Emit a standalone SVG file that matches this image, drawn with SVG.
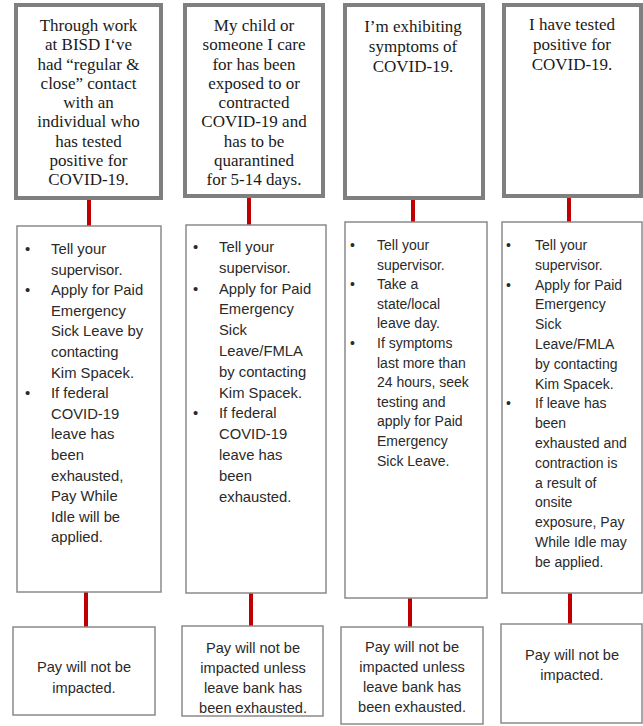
<svg xmlns="http://www.w3.org/2000/svg" width="643" height="726" viewBox="0 0 643 726">
<style>
.top{fill:#fff;stroke:#7f7f7f;stroke-width:4}
.mid{fill:#fff;stroke:#8a8a8a;stroke-width:1.5}
.ser{font-family:"Liberation Serif","Times New Roman",serif;font-size:17px;fill:#1a1a1a;text-anchor:middle}
.san{font-family:"Liberation Sans",Arial,sans-serif;fill:#2a2a2a}
.bot{font-family:"Liberation Sans",Arial,sans-serif;font-size:14.6px;fill:#2a2a2a;text-anchor:middle}
.con{stroke:#c00000;stroke-width:4;fill:none}
</style>
<rect width="643" height="726" fill="#fff"/>
<g id="connectors">
<line class="con" x1="89" y1="200" x2="89" y2="226"/>
<line class="con" x1="249" y1="198" x2="249" y2="225"/>
<line class="con" x1="413" y1="200" x2="413" y2="222"/>
<line class="con" x1="569" y1="198" x2="569" y2="222"/>
<line class="con" x1="86" y1="592" x2="86" y2="627"/>
<line class="con" x1="251" y1="593" x2="251" y2="626"/>
<line class="con" x1="410" y1="598" x2="410" y2="627"/>
<line class="con" x1="570" y1="593" x2="570" y2="624"/>
</g>
<g id="top1">
<rect class="top" x="16" y="5" width="145" height="193"/>
<text class="ser" x="88.5"><tspan x="88.5" y="31">Through work</tspan><tspan x="88.5" y="50.3">at BISD I‘ve</tspan><tspan x="88.5" y="69.5">had “regular &amp;</tspan><tspan x="88.5" y="88.8">close” contact</tspan><tspan x="88.5" y="108">with an</tspan><tspan x="88.5" y="127.3">individual who</tspan><tspan x="88.5" y="146.5">has tested</tspan><tspan x="88.5" y="165.8">positive for</tspan><tspan x="88.5" y="185">COVID-19.</tspan></text>
</g>
<g id="top2">
<rect class="top" x="185" y="5" width="138" height="191"/>
<text class="ser"><tspan x="254" y="31">My child or</tspan><tspan x="254" y="50.3">someone I care</tspan><tspan x="254" y="69.5">for has been</tspan><tspan x="254" y="88.8">exposed to or</tspan><tspan x="254" y="108">contracted</tspan><tspan x="254" y="127.3">COVID-19 and</tspan><tspan x="254" y="146.5">has to be</tspan><tspan x="254" y="165.8">quarantined</tspan><tspan x="254" y="185">for 5-14 days.</tspan></text>
</g>
<g id="top3">
<rect class="top" x="345" y="5" width="138" height="193"/>
<text class="ser"><tspan x="413" y="32">I’m exhibiting</tspan><tspan x="413" y="52">symptoms of</tspan><tspan x="413" y="72">COVID-19.</tspan></text>
</g>
<g id="top4">
<rect class="top" x="504" y="5" width="137" height="191"/>
<text class="ser"><tspan x="572" y="30">I have tested</tspan><tspan x="572" y="50">positive for</tspan><tspan x="572" y="70">COVID-19.</tspan></text>
</g>
<g id="mid1">
<rect class="mid" x="17" y="226" width="144" height="366"/>
<text class="san" font-size="14.8"><tspan x="25" y="254">•</tspan><tspan x="25" y="295.2">•</tspan><tspan x="25" y="398.2">•</tspan></text>
<text class="san" font-size="14.8"><tspan x="51" y="254">Tell your</tspan><tspan x="51" y="274.6">supervisor.</tspan><tspan x="51" y="295.2">Apply for Paid</tspan><tspan x="51" y="315.8">Emergency</tspan><tspan x="51" y="336.4">Sick Leave by</tspan><tspan x="51" y="357">contacting</tspan><tspan x="51" y="377.6">Kim Spacek.</tspan><tspan x="51" y="398.2">If federal</tspan><tspan x="51" y="418.8">COVID-19</tspan><tspan x="51" y="439.4">leave has</tspan><tspan x="51" y="460">been</tspan><tspan x="51" y="480.6">exhausted,</tspan><tspan x="51" y="501.2">Pay While</tspan><tspan x="51" y="521.8">Idle will be</tspan><tspan x="51" y="542.4">applied.</tspan></text>
</g>
<g id="mid2">
<rect class="mid" x="186" y="225" width="140" height="368"/>
<text class="san" font-size="14.8"><tspan x="193" y="252">•</tspan><tspan x="193" y="293.6">•</tspan><tspan x="193" y="418.4">•</tspan></text>
<text class="san" font-size="14.8"><tspan x="219" y="252">Tell your</tspan><tspan x="219" y="272.8">supervisor.</tspan><tspan x="219" y="293.6">Apply for Paid</tspan><tspan x="219" y="314.4">Emergency</tspan><tspan x="219" y="335.2">Sick</tspan><tspan x="219" y="356">Leave/FMLA</tspan><tspan x="219" y="376.8">by contacting</tspan><tspan x="219" y="397.6">Kim Spacek.</tspan><tspan x="219" y="418.4">If federal</tspan><tspan x="219" y="439.2">COVID-19</tspan><tspan x="219" y="460">leave has</tspan><tspan x="219" y="480.8">been</tspan><tspan x="219" y="501.6">exhausted.</tspan></text>
</g>
<g id="mid3">
<rect class="mid" x="345" y="222" width="142" height="376"/>
<text class="san" font-size="14"><tspan x="350" y="250">•</tspan><tspan x="350" y="289.2">•</tspan><tspan x="350" y="348">•</tspan></text>
<text class="san" font-size="14"><tspan x="377" y="250">Tell your</tspan><tspan x="377" y="269.6">supervisor.</tspan><tspan x="377" y="289.2">Take a</tspan><tspan x="377" y="308.8">state/local</tspan><tspan x="377" y="328.4">leave day.</tspan><tspan x="377" y="348">If symptoms</tspan><tspan x="377" y="367.6">last more than</tspan><tspan x="377" y="387.2">24 hours, seek</tspan><tspan x="377" y="406.8">testing and</tspan><tspan x="377" y="426.4">apply for Paid</tspan><tspan x="377" y="446">Emergency</tspan><tspan x="377" y="465.6">Sick Leave.</tspan></text>
</g>
<g id="mid4">
<rect class="mid" x="502" y="222" width="140" height="371"/>
<text class="san" font-size="14"><tspan x="506" y="250">•</tspan><tspan x="506" y="289.6">•</tspan><tspan x="506" y="408.4">•</tspan></text>
<text class="san" font-size="14"><tspan x="535" y="250">Tell your</tspan><tspan x="535" y="269.8">supervisor.</tspan><tspan x="535" y="289.6">Apply for Paid</tspan><tspan x="535" y="309.4">Emergency</tspan><tspan x="535" y="329.2">Sick</tspan><tspan x="535" y="349">Leave/FMLA</tspan><tspan x="535" y="368.8">by contacting</tspan><tspan x="535" y="388.6">Kim Spacek.</tspan><tspan x="535" y="408.4">If leave has</tspan><tspan x="535" y="428.2">been</tspan><tspan x="535" y="448">exhausted and</tspan><tspan x="535" y="467.8">contraction is</tspan><tspan x="535" y="487.6">a result of</tspan><tspan x="535" y="507.4">onsite</tspan><tspan x="535" y="527.2">exposure, Pay</tspan><tspan x="535" y="547">While Idle may</tspan><tspan x="535" y="566.8">be applied.</tspan></text>
</g>
<g id="bot1">
<rect class="mid" x="13" y="627" width="142" height="88"/>
<text class="bot"><tspan x="84" y="672">Pay will not be</tspan><tspan x="84" y="693">impacted.</tspan></text>
</g>
<g id="bot2">
<rect class="mid" x="182" y="626" width="141" height="90"/>
<text class="bot"><tspan x="253" y="653">Pay will not be</tspan><tspan x="253" y="673">impacted unless</tspan><tspan x="253" y="693">leave bank has</tspan><tspan x="253" y="713">been exhausted.</tspan></text>
</g>
<g id="bot3">
<rect class="mid" x="341" y="627" width="142" height="97"/>
<text class="bot"><tspan x="412" y="652">Pay will not be</tspan><tspan x="412" y="672">impacted unless</tspan><tspan x="412" y="692">leave bank has</tspan><tspan x="412" y="712">been exhausted.</tspan></text>
</g>
<g id="bot4">
<rect class="mid" x="501" y="624" width="141" height="99"/>
<text class="bot"><tspan x="572" y="660">Pay will not be</tspan><tspan x="572" y="680">impacted.</tspan></text>
</g>
</svg>
